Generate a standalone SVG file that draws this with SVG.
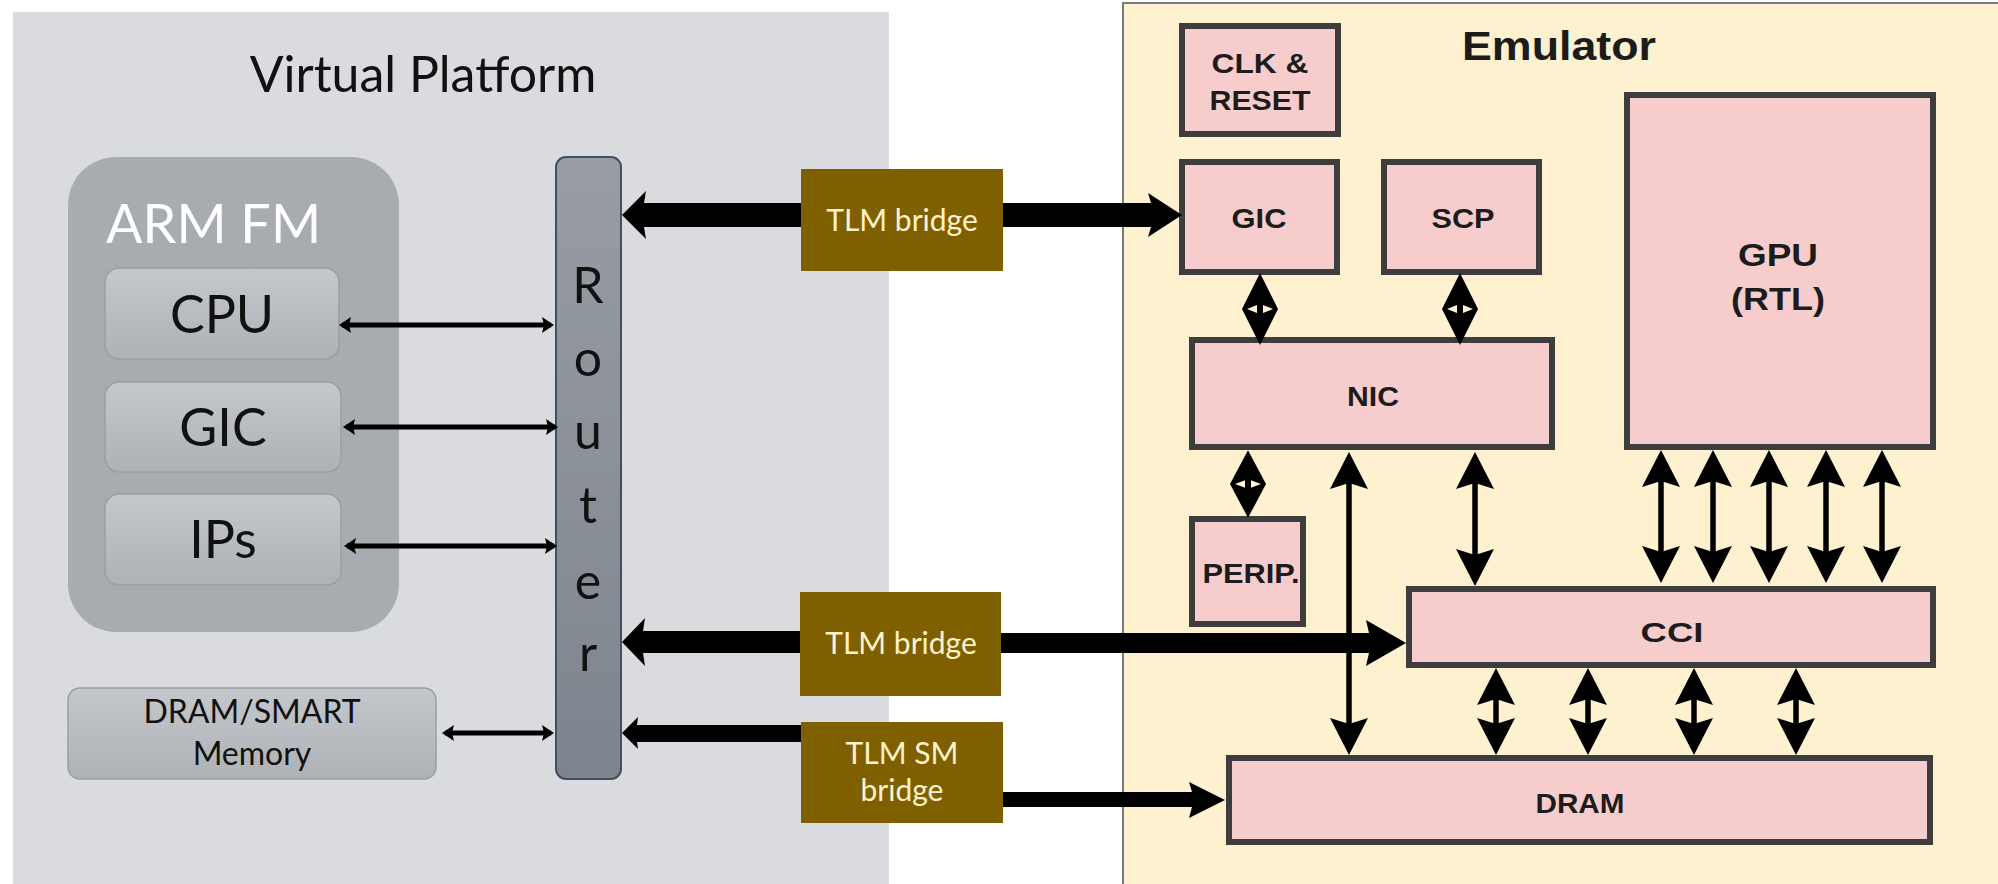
<svg xmlns="http://www.w3.org/2000/svg" width="1998" height="884" viewBox="0 0 1998 884">
<defs>
  <linearGradient id="gBox" x1="0" y1="0" x2="0" y2="1">
    <stop offset="0" stop-color="#c4c7cb"/>
    <stop offset="1" stop-color="#aeb2b7"/>
  </linearGradient>
  <linearGradient id="gRouter" x1="0" y1="0" x2="0" y2="1">
    <stop offset="0" stop-color="#989da5"/>
    <stop offset="1" stop-color="#7e848d"/>
  </linearGradient>
  <!-- notched arrowhead used on the emulator links -->
  <marker id="hd" markerUnits="userSpaceOnUse" orient="auto-start-reverse" refX="0" refY="0" markerWidth="60" markerHeight="60" overflow="visible">
    <path d="M10,0 L-27,-19 L-21,0 L-27,19 Z" fill="#000"/>
  </marker>
  <!-- small arrowhead used inside the virtual platform -->
  <marker id="sm" markerUnits="userSpaceOnUse" orient="auto-start-reverse" refX="0" refY="0" markerWidth="30" markerHeight="30" overflow="visible">
    <path d="M3,0 L-9,-8 L-7,0 L-9,8 Z" fill="#000"/>
  </marker>
  <!-- short two-way link drawn as a diamond, centred on 0,0 -->
  <g id="dia">
    <path d="M0,-36 L18,0 L0,36 L-18,0 Z" fill="#000"/>
    <path d="M-3,-4 L-13,0 L-3,4 Z M3,-4 L13,0 L3,4 Z" fill="#fef1d0"/>
  </g>
  <style>
    .panel-vp{fill:#d9dbde}
    .panel-emu{fill:#fef1d0;stroke:#7a7a7a;stroke-width:2}
    .vp-t{font-family:Lato,"Liberation Sans",sans-serif;fill:#111111}
    .gbox{fill:url(#gBox);stroke:#9a9ea4;stroke-width:1.5}
    .emu-box{fill:#f6cdcc;stroke:#3d3d3d;stroke-width:6}
    .emu-t{font-family:"Liberation Sans",Arial,sans-serif;font-weight:bold;fill:#1c1c1c;text-anchor:middle}
    .bridge{fill:#7f6000}
    .bridge-t{font-family:Lato,"Liberation Sans",sans-serif;fill:#fff2cc;font-size:30px;text-anchor:middle}
    .lnk{stroke:#000;stroke-width:5.5;fill:none;marker-start:url(#hd);marker-end:url(#hd)}
    .slnk{stroke:#000;stroke-width:5;fill:none;marker-start:url(#sm);marker-end:url(#sm)}
    .bus{fill:#000}
  </style>
</defs>

<rect width="1998" height="884" fill="#ffffff"/>

<!-- Virtual platform side -->
<g id="virtual-platform">
  <rect class="panel-vp" x="13" y="12" width="876" height="880"/>
  <text class="vp-t" x="423" y="92" font-size="50" text-anchor="middle">Virtual Platform</text>
</g>

<g id="arm-fm">
  <rect x="68" y="157" width="331" height="475" rx="48" fill="#a8acb1"/>
  <text class="vp-t" x="106" y="243" font-size="54" style="fill:#ffffff">ARM FM</text>
</g>

<g id="cpu">
  <rect class="gbox" x="105" y="268" width="234" height="91" rx="14"/>
  <text class="vp-t" x="222" y="333" font-size="52" text-anchor="middle">CPU</text>
</g>

<g id="gic-fm">
  <rect class="gbox" x="105" y="382" width="236" height="90" rx="14"/>
  <text class="vp-t" x="223" y="446" font-size="52" text-anchor="middle">GIC</text>
</g>

<g id="ips">
  <rect class="gbox" x="105" y="494" width="236" height="91" rx="14"/>
  <text class="vp-t" x="223" y="558" font-size="52" text-anchor="middle">IPs</text>
</g>

<g id="dram-smart">
  <rect class="gbox" x="68" y="688" width="368" height="91" rx="12"/>
  <text class="vp-t" x="252" y="723" font-size="32" text-anchor="middle">DRAM/SMART</text>
  <text class="vp-t" x="252" y="765" font-size="32" text-anchor="middle">Memory</text>
</g>

<g id="router">
  <rect x="556" y="157" width="65" height="622" rx="10" fill="url(#gRouter)" stroke="#3f5060" stroke-width="2"/>
  <g class="vp-t" font-size="50" text-anchor="middle">
    <text x="588" y="303">R</text>
    <text x="588" y="376">o</text>
    <text x="588" y="449">u</text>
    <text x="588" y="523">t</text>
    <text x="588" y="599">e</text>
    <text x="588" y="671">r</text>
  </g>
</g>

<!-- Emulator side -->
<g id="emulator">
  <rect class="panel-emu" x="1123" y="3" width="890" height="890"/>
  <text class="emu-t" x="1559" y="60" font-size="40" textLength="194" lengthAdjust="spacingAndGlyphs">Emulator</text>
</g>

<g id="clk-reset">
  <rect class="emu-box" x="1182" y="26" width="156" height="108"/>
  <text class="emu-t" x="1260" y="73" font-size="28" textLength="97" lengthAdjust="spacingAndGlyphs">CLK &amp;</text>
  <text class="emu-t" x="1260" y="110" font-size="28" textLength="101" lengthAdjust="spacingAndGlyphs">RESET</text>
</g>

<g id="gic">
  <rect class="emu-box" x="1182" y="162" width="155" height="110"/>
  <text class="emu-t" x="1259" y="228" font-size="28" textLength="55" lengthAdjust="spacingAndGlyphs">GIC</text>
</g>

<g id="scp">
  <rect class="emu-box" x="1384" y="162" width="155" height="110"/>
  <text class="emu-t" x="1463" y="228" font-size="28" textLength="63" lengthAdjust="spacingAndGlyphs">SCP</text>
</g>

<g id="gpu">
  <rect class="emu-box" x="1627" y="95" width="306" height="352"/>
  <text class="emu-t" x="1778" y="266" font-size="32" textLength="80" lengthAdjust="spacingAndGlyphs">GPU</text>
  <text class="emu-t" x="1778" y="310" font-size="32" textLength="94" lengthAdjust="spacingAndGlyphs">(RTL)</text>
</g>

<g id="nic">
  <rect class="emu-box" x="1192" y="340" width="360" height="107"/>
  <text class="emu-t" x="1373" y="406" font-size="28" textLength="52" lengthAdjust="spacingAndGlyphs">NIC</text>
</g>

<g id="perip">
  <rect class="emu-box" x="1192" y="519" width="111" height="105"/>
  <text class="emu-t" x="1251" y="583" font-size="28" textLength="97" lengthAdjust="spacingAndGlyphs">PERIP.</text>
</g>

<g id="cci">
  <rect class="emu-box" x="1409" y="589" width="524" height="76"/>
  <text class="emu-t" x="1672" y="642" font-size="28" textLength="63" lengthAdjust="spacingAndGlyphs">CCI</text>
</g>

<g id="dram">
  <rect class="emu-box" x="1229" y="758" width="701" height="84"/>
  <text class="emu-t" x="1580" y="813" font-size="28" textLength="89" lengthAdjust="spacingAndGlyphs">DRAM</text>
</g>

<!-- Bridges between the two worlds -->
<g id="tlm-bridge-1">
  <rect class="bridge" x="801" y="169" width="202" height="102"/>
  <text class="bridge-t" x="902" y="231">TLM bridge</text>
</g>

<g id="tlm-bridge-2">
  <rect class="bridge" x="800" y="592" width="201" height="104"/>
  <text class="bridge-t" x="901" y="654">TLM bridge</text>
</g>

<g id="tlm-sm-bridge">
  <rect class="bridge" x="801" y="722" width="202" height="101"/>
  <text class="bridge-t" x="902" y="764">TLM SM</text>
  <text class="bridge-t" x="902" y="801">bridge</text>
</g>

<g id="connectors">
  <!-- platform links to the router -->
  <line class="slnk" x1="342" y1="325" x2="551" y2="325"/>
  <line class="slnk" x1="346" y1="427" x2="555" y2="427" stroke-width="6"/>
  <line class="slnk" x1="347" y1="546" x2="554" y2="546"/>
  <line class="slnk" x1="445" y1="733" x2="551" y2="733" stroke-width="4"/>

  <!-- TLM buses -->
  <path class="bus" d="M801,203 H644 L646,191 L622,215 L646,239 L644,227 H801 Z"/>
  <path class="bus" d="M1003,203 H1151 L1148,193 L1182,215 L1148,237 L1151,227 H1003 Z"/>
  <path class="bus" d="M800,631 H643 L645,618 L622,642 L645,666 L643,653 H800 Z"/>
  <path class="bus" d="M1001,633 H1369 L1366,620 L1406,643 L1366,666 L1369,653 H1001 Z"/>
  <path class="bus" d="M801,725 H637 L638,717 L622,733 L638,749 L637,742 H801 Z"/>
  <path class="bus" d="M1003,792 H1192 L1189,782 L1225,800 L1189,818 L1192,807 H1003 Z"/>

  <!-- emulator interconnect -->
  <use href="#dia" transform="translate(1260,309)"/>
  <use href="#dia" transform="translate(1460,309)"/>
  <use href="#dia" transform="translate(1248,484) scale(1,0.94)"/>
  <line class="lnk" x1="1349" y1="462" x2="1349" y2="745"/>
  <line class="lnk" x1="1475" y1="462" x2="1475" y2="576"/>
  <line class="lnk" x1="1661" y1="460" x2="1661" y2="573"/>
  <line class="lnk" x1="1713" y1="460" x2="1713" y2="573"/>
  <line class="lnk" x1="1769" y1="460" x2="1769" y2="573"/>
  <line class="lnk" x1="1826" y1="460" x2="1826" y2="573"/>
  <line class="lnk" x1="1882" y1="460" x2="1882" y2="573"/>
  <line class="lnk" x1="1496" y1="678" x2="1496" y2="745"/>
  <line class="lnk" x1="1588" y1="678" x2="1588" y2="745"/>
  <line class="lnk" x1="1694" y1="678" x2="1694" y2="745"/>
  <line class="lnk" x1="1796" y1="678" x2="1796" y2="745"/>
</g>
</svg>
